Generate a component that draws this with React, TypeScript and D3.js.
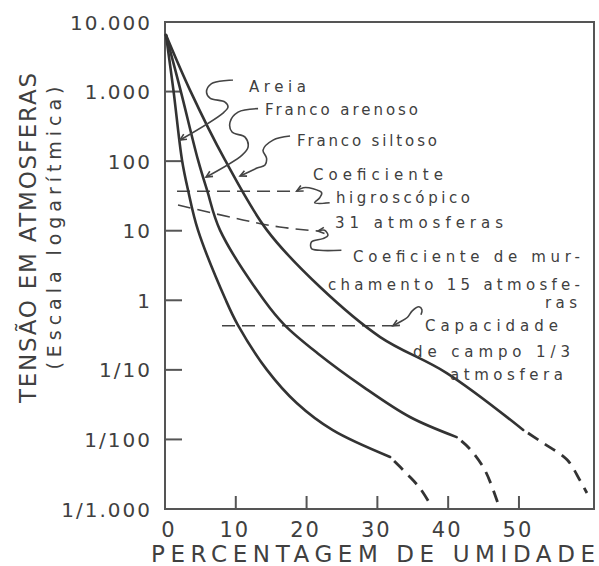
import React from 'react';
import * as d3 from 'd3';

// Curvas de tensão de umidade para três solos (escala logarítmica)

type Pt = [number, number];

const yTicks = [10000, 1000, 100, 10, 1, 0.1, 0.01, 0.001];
const yTickLabels = ['10.000', '1.000', '100', '10', '1', '1/10', '1/100', '1/1.000'];
const xTicks = [0, 10, 20, 30, 40, 50];

// [umidade %, tensão atm]
const areiaSolid: Pt[] = [
  [0.14, 6500], [1.19, 1050], [2.4, 104], [3.25, 38.5], [4.66, 10.2], [8.6, 1.0],
  [10.3, 0.44], [14.4, 0.1], [18.6, 0.0334], [23.7, 0.0136], [31.8, 0.0056],
];
const areiaDashed: Pt[] = [[31.8, 0.0056], [34.3, 0.0031], [36.0, 0.002], [37.4, 0.0012]];

const arenosoSolid: Pt[] = [
  [0.14, 6500], [2.19, 1050], [4.66, 104], [5.93, 38.5], [7.77, 10.2], [14.0, 1.0],
  [16.9, 0.44], [21.5, 0.175], [28.0, 0.057], [34.6, 0.021], [41.2, 0.0108],
];
const arenosoDashed: Pt[] = [[41.2, 0.0108], [42.9, 0.0076], [45.2, 0.0036], [47.2, 0.00107]];

const siltosoSolid: Pt[] = [
  [0.14, 6500], [3.53, 1050], [8.47, 104], [14.4, 10.2],
  [21.9, 1.55], [30.4, 0.296], [39.8, 0.09], [50.6, 0.0137],
];
const siltosoDashed: Pt[] = [[50.6, 0.0137], [53.4, 0.0089], [56.8, 0.0051], [58.6, 0.0026], [59.6, 0.0017]];

// linhas de referência
const higroscopico: Pt[] = [[1.7, 37], [18.6, 37]];
const murchamento: Pt[] = [[1.84, 23.4], [11.0, 14.3], [16.2, 11.3], [21.6, 9.9]];
const capacidade: Pt[] = [[8.05, 0.43], [32.2, 0.43]];

// setas (ponta em dados, forma em px relativos)
const leaders: { tip: Pt; shape: Pt[] }[] = [
  { tip: [2.12, 201], shape: [[0, 0], [43, -27], [48, -33], [45, -38], [30, -42], [26.5, -48], [31.5, -56.5], [53, -60]] },
  { tip: [5.8, 59], shape: [[0, 0], [36, -22], [42, -30], [39, -40], [26, -45], [24, -55], [32, -65], [52, -68.5]] },
  { tip: [10.6, 61], shape: [[0, 0], [17, -8], [25, -11], [26.5, -18], [23, -26], [33, -36], [50, -40]] },
  { tip: [18.6, 37], shape: [[0, 0], [6.5, -3.4], [16.5, -2.4], [25, 1.6], [23, 6.6], [18, 11.6], [33, 11.6]] },
  { tip: [21.6, 9.9], shape: [[0, 0], [6.7, -0.7], [10, 4.3], [5, 7.6], [-6.5, 11], [-6.5, 17.5], [1.7, 19.3], [23.5, 19.3]] },
  { tip: [32.2, 0.43], shape: [[0, 0], [6, -3.3], [14.3, -8.3], [19.3, -15], [26, -19], [29, -16], [28, -11]] },
];

const labels: { t: string; x: number; y: number; len: number }[] = [
  { t: 'Areia', x: 249, y: 92, len: 57 },
  { t: 'Franco arenoso', x: 265, y: 115, len: 153 },
  { t: 'Franco siltoso', x: 297, y: 146, len: 140 },
  { t: 'Coeficiente', x: 313, y: 180, len: 130 },
  { t: 'higroscópico', x: 336, y: 203, len: 134 },
  { t: '31 atmosferas', x: 335, y: 228, len: 168 },
  { t: 'Coeficiente de mur-', x: 353, y: 262, len: 227 },
  { t: 'chamento 15 atmosfe-', x: 328, y: 290, len: 252 },
  { t: 'ras', x: 545, y: 308, len: 32 },
  { t: 'Capacidade', x: 425, y: 331, len: 133 },
  { t: 'de campo 1/3', x: 413, y: 357, len: 157 },
  { t: 'atmosfera', x: 450, y: 380, len: 113 },
];

const INK = '#404040';
const FONT = 'DejaVu Sans, sans-serif';

const App = () => {
  const W = 599;
  const H = 566;
  const x = d3.scaleLinear().domain([0, 60.6]).range([165, 594]);
  const y = d3.scaleLog().domain([0.001, 10000]).range([509, 22]);

  const curve = d3.line<Pt>().x(d => x(d[0])).y(d => y(d[1])).curve(d3.curveCatmullRom.alpha(0.5));
  const squiggle = d3.line<Pt>().curve(d3.curveCatmullRom.alpha(0.5));

  const solids = [areiaSolid, arenosoSolid, siltosoSolid];
  const dashes = [areiaDashed, arenosoDashed, siltosoDashed];
  const refs = [higroscopico, murchamento, capacidade];

  const [x0, x1] = x.range();
  const [yb, yt] = y.range();

  return (
    <svg width={W} height={H} style={{ position: 'absolute', left: 0, top: 0, background: '#fff' }}>
      {/* moldura */}
      <rect x={x0} y={yt} width={x1 - x0} height={yb - yt} fill="none" stroke="#555" strokeWidth={2} />

      {/* eixo y */}
      {yTicks.map((v, i) => (
        <g key={'y' + i}>
          {i > 0 && i < yTicks.length - 1 && (
            <line x1={x0} x2={x0 + 17} y1={y(v)} y2={y(v)} stroke="#555" strokeWidth={2} />
          )}
          <text x={152} y={y(v) + 7.5} textAnchor="end" fontFamily={FONT} fontSize={20} fill={INK} letterSpacing={2}>
            {yTickLabels[i]}
          </text>
        </g>
      ))}

      {/* eixo x */}
      {xTicks.map(v => (
        <g key={'x' + v}>
          {v > 0 && <line x1={x(v)} x2={x(v)} y1={yb} y2={yb - 13} stroke="#555" strokeWidth={2} />}
          <text x={x(v) + (v === 0 ? 4 : -1)} y={537} textAnchor="middle" fontFamily={FONT} fontSize={21} fill={INK} letterSpacing={2}>
            {v}
          </text>
        </g>
      ))}

      <text x={151} y={562} fontFamily={FONT} fontSize={23} fill={INK} textLength={444} lengthAdjust="spacing">
        PERCENTAGEM DE UMIDADE
      </text>
      <text transform="translate(36,238) rotate(-90)" textAnchor="middle" fontFamily={FONT} fontSize={23} fill={INK} textLength={330} lengthAdjust="spacing">
        TENSÃO EM ATMOSFERAS
      </text>
      <text transform="translate(61,228) rotate(-90)" textAnchor="middle" fontFamily={FONT} fontSize={19} fill={INK} textLength={283} lengthAdjust="spacing">
        (Escala logarítmica)
      </text>

      {/* linhas de referência */}
      {refs.map((r, i) => (
        <path key={'r' + i} d={curve(r) || ''} fill="none" stroke="#444" strokeWidth={1.6} strokeDasharray="13 7" />
      ))}

      {/* curvas */}
      {solids.map((s, i) => (
        <path key={'s' + i} d={curve(s) || ''} fill="none" stroke="#333" strokeWidth={2.6} strokeLinecap="round" />
      ))}
      {dashes.map((s, i) => (
        <path key={'d' + i} d={curve(s) || ''} fill="none" stroke="#333" strokeWidth={2.8} strokeDasharray="12 8" strokeDashoffset={-6} />
      ))}

      {/* setas */}
      {leaders.map((l, i) => {
        const tx = x(l.tip[0]);
        const ty = y(l.tip[1]);
        const pts: Pt[] = l.shape.map(p => [tx + p[0], ty + p[1]]);
        const a = Math.atan2(pts[1][1] - ty, pts[1][0] - tx);
        const h = 7;
        const head = `M${tx + h * Math.cos(a + 0.45)},${ty + h * Math.sin(a + 0.45)}L${tx},${ty}L${tx + h * Math.cos(a - 0.45)},${ty + h * Math.sin(a - 0.45)}`;
        return (
          <g key={'l' + i}>
            <path d={squiggle(pts) || ''} fill="none" stroke="#444" strokeWidth={1.6} />
            <path d={head} fill="none" stroke="#444" strokeWidth={1.6} />
          </g>
        );
      })}

      {/* rótulos */}
      {labels.map((l, i) => (
        <text key={'t' + i} x={l.x} y={l.y} fontFamily={FONT} fontSize={15} fill={INK} textLength={l.len} lengthAdjust="spacing">
          {l.t}
        </text>
      ))}
    </svg>
  );
};

export default App;
